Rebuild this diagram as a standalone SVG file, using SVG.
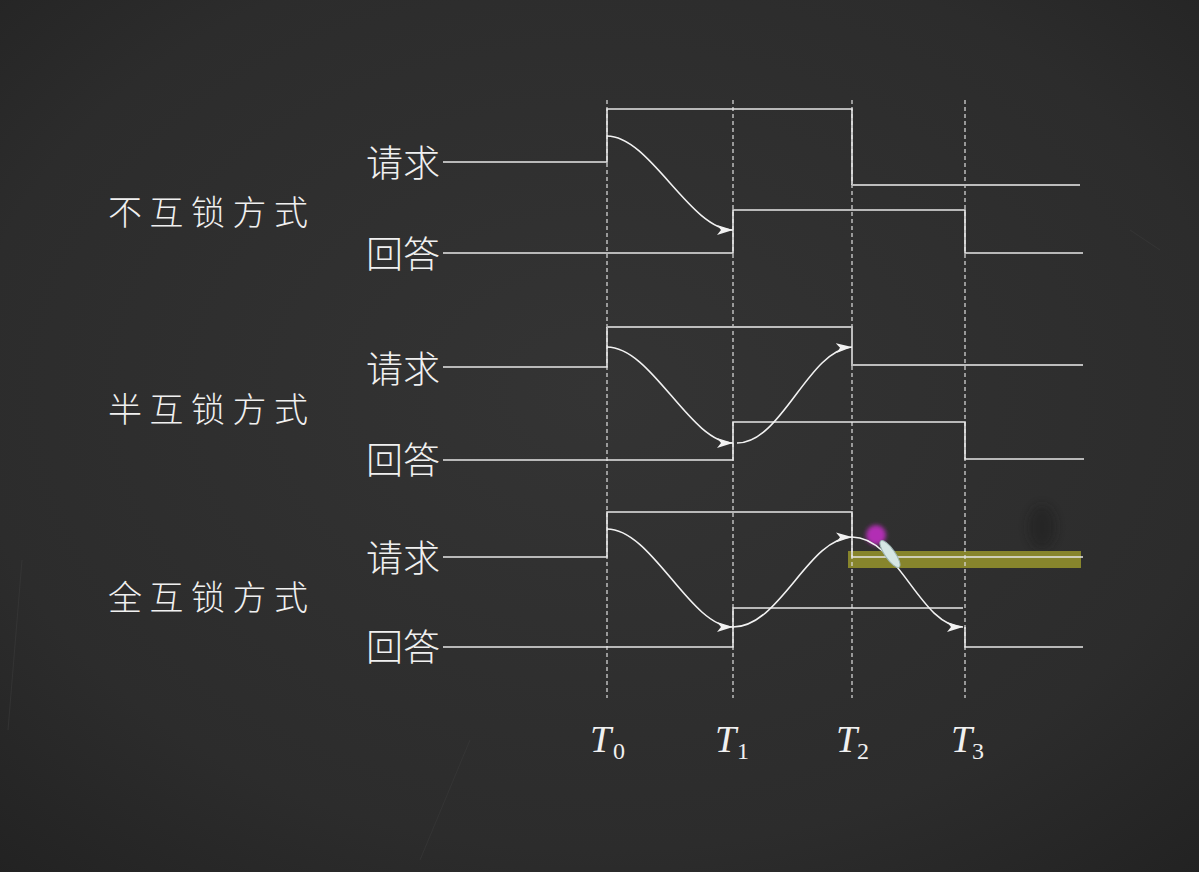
<svg xmlns="http://www.w3.org/2000/svg" width="1199" height="872" viewBox="0 0 1199 872">
  <defs>
    <radialGradient id="bg" cx="0.5" cy="0.45" r="0.75">
      <stop offset="0" stop-color="#343434"/>
      <stop offset="0.7" stop-color="#2c2c2c"/>
      <stop offset="1" stop-color="#222222"/>
    </radialGradient>
    <filter id="blur" x="-50%" y="-50%" width="200%" height="200%">
      <feGaussianBlur stdDeviation="2"/>
    </filter>
    <filter id="blur2" x="-50%" y="-50%" width="200%" height="200%">
      <feGaussianBlur stdDeviation="5"/>
    </filter>
    <marker id="arr" markerUnits="userSpaceOnUse" markerWidth="18" markerHeight="10" refX="16" refY="5" orient="auto">
      <path d="M0,0 L16,5 L0,10 L4,5 Z" fill="#f2f2f2"/>
    </marker>
    <style>
      .sig { fill: none; stroke: #e6e6e6; stroke-width: 1.6; }
      .low { fill: none; stroke: #bdbdbd; stroke-width: 2; }
      .dash { fill: none; stroke: #e0e0e0; stroke-width: 1.2; stroke-dasharray: 4 3; }
      .curve { fill: none; stroke: #f2f2f2; stroke-width: 1.6; marker-end: url(#arr); }
      .cn { font-family: "Noto Sans CJK SC", "Noto Sans", sans-serif; fill: #f0f0f0; font-weight: 300; dominant-baseline: central; }
      .mode { font-size: 34px; letter-spacing: 7.5px; }
      .sigl { font-size: 37px; }
      .tt { font-family: "Liberation Serif", serif; fill: #f0f0f0; font-style: italic; font-size: 38px; }
      .sub { font-family: "Liberation Serif", serif; fill: #f0f0f0; font-size: 24px; }
    </style>
  </defs>
  <rect x="0" y="0" width="1199" height="872" fill="url(#bg)"/>
  <g id="chalk" stroke="#3a3a3a" stroke-width="1" fill="none" opacity="0.6">
    <path d="M22,560 L8,730"/>
    <path d="M470,740 L420,860"/>
    <path d="M1130,230 L1160,250"/>
  </g>
  <ellipse cx="1042" cy="527" rx="14" ry="22" fill="#1c1c1c" opacity="0.45" filter="url(#blur2)"/>

  <g id="highlight">
    <rect x="848" y="551" width="233" height="17" fill="#8c8a2c" opacity="0.95"/>
    <circle cx="876" cy="535" r="10" fill="#b22fb4" filter="url(#blur)"/>
  </g>

  <g id="timeline">
    <line class="dash" x1="607" y1="100" x2="607" y2="698"/>
    <line class="dash" x1="733" y1="100" x2="733" y2="698"/>
    <line class="dash" x1="852" y1="100" x2="852" y2="698"/>
    <line class="dash" x1="965" y1="100" x2="965" y2="698"/>
  </g>

  <g id="mode1">
    <text class="cn mode" x="108" y="210">不互锁方式</text>
    <text class="cn sigl" x="366" y="161">请求</text>
    <text class="cn sigl" x="366" y="252">回答</text>
  </g>
  <g id="mode2">
    <text class="cn mode" x="108" y="407">半互锁方式</text>
    <text class="cn sigl" x="366" y="367">请求</text>
    <text class="cn sigl" x="366" y="458">回答</text>
  </g>
  <g id="mode3">
    <text class="cn mode" x="108" y="595">全互锁方式</text>
    <text class="cn sigl" x="366" y="556">请求</text>
    <text class="cn sigl" x="366" y="645">回答</text>
  </g>

  <g id="connectors">
    <path class="sig" d="M443,162 H607 V109 H852 V185"/>
    <path class="low" d="M852,185 H1080"/>
    <path class="sig" d="M443,253 H733 V210 H965 V253 H1083"/>
    <path class="curve" d="M607,136 C650,136 690,230 733,230"/>
    <path class="sig" d="M443,367 H607 V327"/>
    <path class="low" d="M607,327 H852 V365 H1083"/>
    <path class="sig" d="M443,460 H733 V422 H965 V459 H1084"/>
    <path class="curve" d="M607,347 C652,347 690,443 733,443"/>
    <path class="curve" d="M737,443 C782,443 808,350 852,347"/>
    <path class="sig" d="M443,557 H607 V512 H852 V557 H1083"/>
    <path class="sig" d="M443,647 H733 V608 H963"/>
    <path class="sig" d="M965,627 V647 H1083"/>
    <path class="curve" d="M607,529 C652,529 690,627 733,627"/>
    <path class="curve" d="M733,627 C780,627 808,538 852,537"/>
    <path class="curve" d="M852,537 C898,537 920,627 963,627"/>
  </g>

  <g id="feather">
    <ellipse cx="890" cy="554" rx="16" ry="5" transform="rotate(55 890 554)" fill="#d6e6e4" stroke="#9fb6b4" stroke-width="1"/>
  </g>

  <g id="labels">
    <text class="tt" x="590" y="752">T</text><text class="sub" x="613" y="759">0</text>
    <text class="tt" x="715" y="752">T</text><text class="sub" x="737" y="759">1</text>
    <text class="tt" x="836" y="752">T</text><text class="sub" x="857" y="759">2</text>
    <text class="tt" x="951" y="752">T</text><text class="sub" x="972" y="759">3</text>
  </g>
</svg>
